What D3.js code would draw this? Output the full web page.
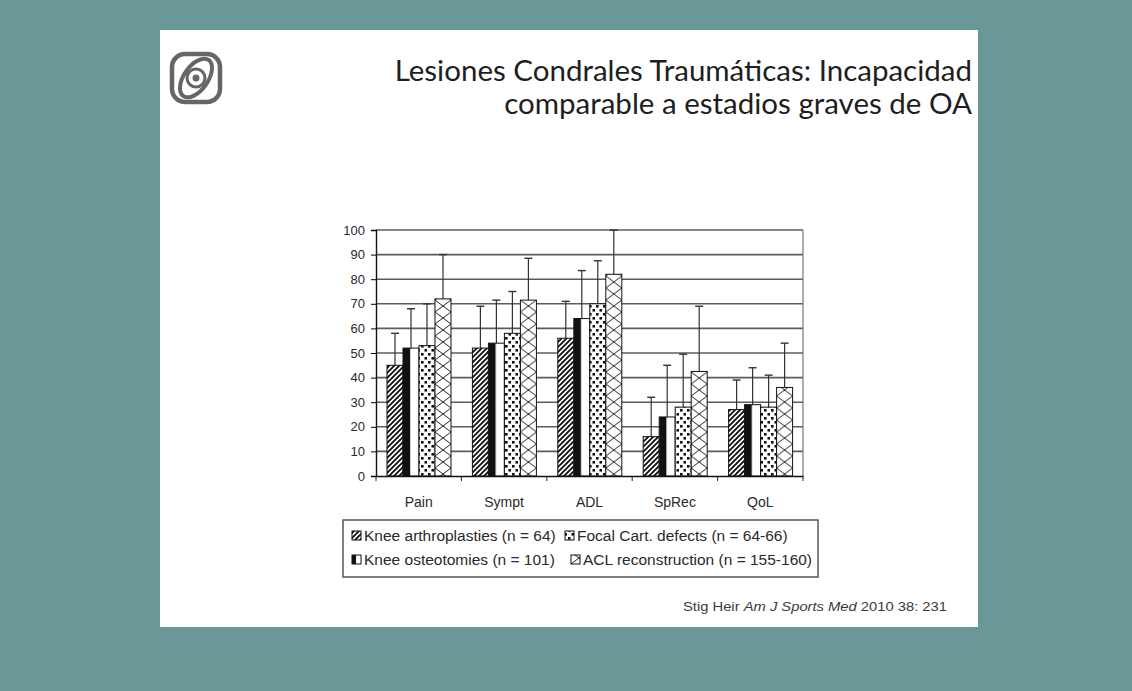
<!DOCTYPE html>
<meta charset="utf-8">
<html>
    <head>
        <style>
            html, body {
                margin: 0;
                padding: 0;
                background: #699896;
            }

            svg {
                display: block;
            }

            .title {
                font-family: Lato, "Open Sans", sans-serif;
                font-size: 29.5px;
                fill: #1e1e1e;
            }

            .chart text {
                font-family: "Liberation Sans", Arial, sans-serif;
                fill: #2a2a2a;
            }

            .grid line {
                stroke: #5c5c5c;
                stroke-width: 1.6;
            }

            .cite {
                font-family: "Liberation Sans", Arial, sans-serif;
                font-size: 13.5px;
                fill: #3a3a3a;
            }
        </style>
    </head>
    <body>
        <svg width="1132" height="691"></svg>

        <script src="https://cdn.jsdelivr.net/npm/d3@7"></script>
        <script>
            // data
            var categories = ['Pain', 'Sympt', 'ADL', 'SpRec', 'QoL'];
            var seriesNames = [
                'Knee arthroplasties (n = 64)',
                'Knee osteotomies (n = 101)',
                'Focal Cart. defects (n = 64-66)',
                'ACL reconstruction (n = 155-160)'
            ];
            var arthroplasties = [45, 52, 56, 16, 27];
            var osteotomies = [52, 54, 64, 24, 29];
            var focalDefects = [53, 58, 70, 28, 28];
            var aclRecon = [72, 71.5, 82, 42.5, 36];
            // top of each error whisker
            var arthroplastiesErr = [58, 69, 71, 32, 39];
            var osteotomiesErr = [68, 71.5, 83.5, 45, 44];
            var focalDefectsErr = [70, 75, 87.5, 49.5, 41];
            var aclReconErr = [90, 88.5, 100, 69, 54];
            var yTicks = [0, 10, 20, 30, 40, 50, 60, 70, 80, 90, 100];

            var values = [arthroplasties, osteotomies, focalDefects, aclRecon];
            var errs = [arthroplastiesErr, osteotomiesErr, focalDefectsErr, aclReconErr];

            var svg = d3.select('svg');
            var defs = svg.append('defs');

            // slide
            svg.append('rect')
                .attr('x', 160).attr('y', 30)
                .attr('width', 818).attr('height', 597)
                .attr('fill', '#fff');

            // logo (rough)
            var logo = svg.append('g')
                .attr('transform', 'translate(196,78)')
                .attr('fill', 'none')
                .attr('stroke', '#666');
            logo.append('rect')
                .attr('x', -24).attr('y', -24)
                .attr('width', 48).attr('height', 48)
                .attr('rx', 13)
                .attr('stroke-width', 4.5);
            logo.append('ellipse')
                .attr('rx', 22).attr('ry', 12)
                .attr('transform', 'rotate(-55)')
                .attr('stroke-width', 4);
            logo.append('circle').attr('r', 9).attr('stroke-width', 3);
            logo.append('circle').attr('r', 3.5).attr('fill', '#666').attr('stroke', 'none');

            // title
            svg.append('text')
                .attr('class', 'title')
                .attr('x', 972).attr('y', 81)
                .attr('text-anchor', 'end')
                .text('Lesiones Condrales Traumáticas: Incapacidad');
            svg.append('text')
                .attr('class', 'title')
                .attr('x', 972).attr('y', 114)
                .attr('text-anchor', 'end')
                .text('comparable a estadios graves de OA');

            // chart
            var chart = svg.append('g').attr('class', 'chart');

            var x = d3.scaleBand()
                .domain(categories)
                .range([376, 803]);

            var xInner = d3.scaleBand()
                .domain(d3.range(seriesNames.length))
                .range([11, 75]);

            var y = d3.scaleLinear()
                .domain([0, 100])
                .range([476, 230]);

            var bw = xInner.bandwidth();

            // patterns
            var hatch = defs.append('pattern')
                .attr('id', 'hatch')
                .attr('patternUnits', 'userSpaceOnUse')
                .attr('width', 5).attr('height', 5);
            hatch.append('rect').attr('width', 5).attr('height', 5).attr('fill', '#fff');
            hatch.append('path')
                .attr('d', 'M-1,1 l2,-2 M0,5 l5,-5 M4,6 l2,-2')
                .attr('stroke', '#111')
                .attr('stroke-width', 1.9);

            var half = defs.append('pattern')
                .attr('id', 'half')
                .attr('patternUnits', 'objectBoundingBox')
                .attr('patternContentUnits', 'objectBoundingBox')
                .attr('width', 1).attr('height', 1);
            half.append('rect').attr('width', 1).attr('height', 1).attr('fill', '#fff');
            half.append('rect').attr('width', 0.45).attr('height', 1).attr('fill', '#111');

            var dots = defs.append('pattern')
                .attr('id', 'dots')
                .attr('patternUnits', 'userSpaceOnUse')
                .attr('width', 7).attr('height', 8);
            dots.append('rect').attr('width', 7).attr('height', 8).attr('fill', '#fff');
            dots.append('rect').attr('x', 1).attr('y', 1).attr('width', 2.6).attr('height', 2.6).attr('fill', '#111');
            dots.append('rect').attr('x', 4.5).attr('y', 5).attr('width', 2.6).attr('height', 2.6).attr('fill', '#111');

            function latticePattern(id, x0, w) {
                var p = defs.append('pattern')
                    .attr('id', id)
                    .attr('patternUnits', 'userSpaceOnUse')
                    .attr('x', x0).attr('y', 0)
                    .attr('width', w).attr('height', 12);
                p.append('rect').attr('width', w).attr('height', 12).attr('fill', '#fff');
                p.append('path')
                    .attr('d', 'M0,0 L' + w + ',12 M' + w + ',0 L0,12')
                    .attr('stroke', '#222')
                    .attr('stroke-width', 1);
            }

            function fillFor(s, xPos, id) {
                if (s === 0) return 'url(#hatch)';
                if (s === 1) return 'url(#half)';
                if (s === 2) return 'url(#dots)';
                latticePattern(id, xPos, bw);
                return 'url(#' + id + ')';
            }

            // grid
            chart.append('g')
                .attr('class', 'grid')
                .selectAll('line')
                .data(yTicks.slice(1))
                .enter()
                    .append('line')
                    .attr('x1', 376).attr('x2', 803)
                    .attr('y1', function (d) { return y(d); })
                    .attr('y2', function (d) { return y(d); });

            chart.append('line')
                .attr('x1', 803).attr('x2', 803)
                .attr('y1', y(100)).attr('y2', y(0))
                .attr('stroke', '#777').attr('stroke-width', 1.2);

            // bars
            var barData = [];
            categories.forEach(function (c, i) {
                values.forEach(function (v, s) {
                    barData.push({ cat: c, s: s, v: v[i], e: errs[s][i], i: i });
                });
            });

            var barG = chart.append('g');

            barG.selectAll('line.err')
                .data(barData)
                .enter()
                    .append('line')
                    .attr('class', 'err')
                    .attr('x1', function (d) { return x(d.cat) + xInner(d.s) + bw / 2; })
                    .attr('x2', function (d) { return x(d.cat) + xInner(d.s) + bw / 2; })
                    .attr('y1', function (d) { return y(d.v); })
                    .attr('y2', function (d) { return y(d.e); })
                    .attr('stroke', '#333')
                    .attr('stroke-width', 1.2);

            barG.selectAll('line.cap')
                .data(barData)
                .enter()
                    .append('line')
                    .attr('class', 'cap')
                    .attr('x1', function (d) { return x(d.cat) + xInner(d.s) + bw / 2 - 4; })
                    .attr('x2', function (d) { return x(d.cat) + xInner(d.s) + bw / 2 + 4; })
                    .attr('y1', function (d) { return y(d.e); })
                    .attr('y2', function (d) { return y(d.e); })
                    .attr('stroke', '#333')
                    .attr('stroke-width', 1.4);

            barG.selectAll('rect')
                .data(barData)
                .enter()
                    .append('rect')
                    .attr('x', function (d) { return x(d.cat) + xInner(d.s); })
                    .attr('y', function (d) { return y(d.v); })
                    .attr('width', bw)
                    .attr('height', function (d) { return y(0) - y(d.v); })
                    .attr('fill', function (d) {
                        return fillFor(d.s, x(d.cat) + xInner(d.s), 'acl-' + d.i);
                    })
                    .attr('stroke', '#111')
                    .attr('stroke-width', 1);

            // axes
            var yAxis = chart.append('g')
                .attr('transform', 'translate(376,0)')
                .call(d3.axisLeft(y).tickValues(yTicks).tickSize(5).tickPadding(6));
            yAxis.selectAll('text').attr('font-size', 13);

            var xAxis = chart.append('g')
                .attr('transform', 'translate(0,476)')
                .call(d3.axisBottom(x).tickSize(0).tickPadding(21));
            xAxis.selectAll('text').attr('font-size', 14);

            xAxis.selectAll('line.sep')
                .data(categories.concat(['']))
                .enter()
                    .append('line')
                    .attr('class', 'sep')
                    .attr('x1', function (d, i) { return 376 + i * x.step(); })
                    .attr('x2', function (d, i) { return 376 + i * x.step(); })
                    .attr('y1', 0).attr('y2', 5)
                    .attr('stroke', '#222');

            chart.selectAll('.domain').attr('stroke', '#111').attr('stroke-width', 1.4);

            // legend
            var legend = chart.append('g');
            legend.append('rect')
                .attr('x', 343).attr('y', 520)
                .attr('width', 475).attr('height', 57)
                .attr('fill', '#fff')
                .attr('stroke', '#555')
                .attr('stroke-width', 1.5);

            var legendPos = [[352, 535], [352, 559], [565, 535], [571, 559]];
            seriesNames.forEach(function (name, s) {
                var p = legendPos[s];
                legend.append('rect')
                    .attr('x', p[0]).attr('y', p[1] - 4)
                    .attr('width', 9).attr('height', 9)
                    .attr('fill', fillFor(s, p[0], 'acl-legend'))
                    .attr('stroke', '#111')
                    .attr('stroke-width', 1);
                legend.append('text')
                    .attr('x', p[0] + 12).attr('y', p[1] + 6)
                    .attr('font-size', 15.5)
                    .text(name);
            });

            // citation
            var cite = svg.append('text')
                .attr('class', 'cite')
                .attr('x', 683).attr('y', 611)
                .attr('textLength', 264)
                .attr('lengthAdjust', 'spacingAndGlyphs');
            cite.append('tspan').text('Stig Heir   ');
            cite.append('tspan').attr('font-style', 'italic').text('Am J Sports Med');
            cite.append('tspan').text(' 2010 38: 231');
        </script>
    </body>
</html>
